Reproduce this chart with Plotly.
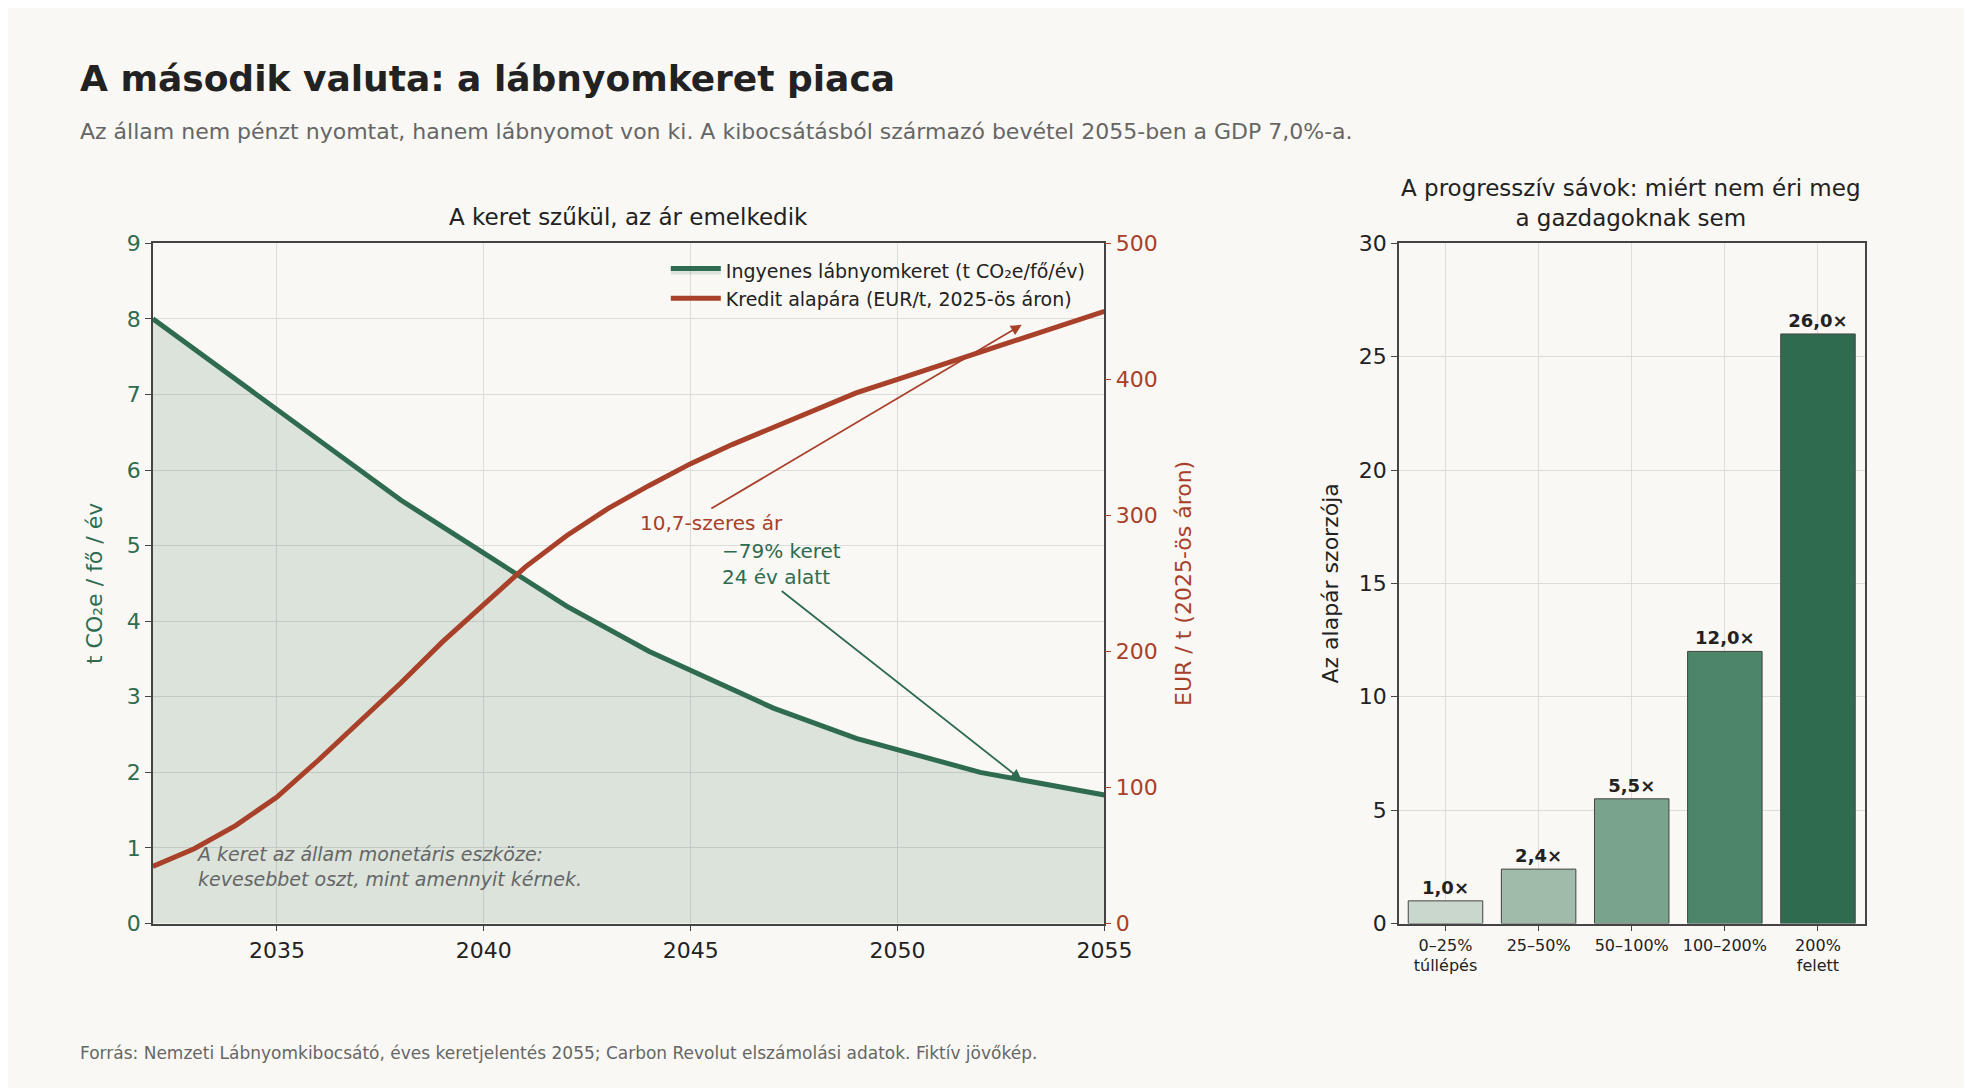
import plotly.graph_objects as go

years = list(range(2032, 2056))
keret_years = [2032, 2034, 2035, 2038, 2040, 2042, 2044, 2047, 2049, 2052, 2055]
keret = [8.0, 7.2, 6.8, 5.6, 4.9, 4.2, 3.6, 2.85, 2.45, 2.0, 1.7]
price = [42, 55, 72, 93, 120, 148, 177, 207, 235, 262, 285, 305, 322, 338, 352,
         365, 378, 390, 400, 410, 420, 430, 440, 450]
bands = ["0–25%<br>túllépés", "25–50%", "50–100%", "100–200%", "200%<br>felett"]
mult = [1.0, 2.4, 5.5, 12.0, 26.0]
mult_labels = ["1,0×", "2,4×", "5,5×", "12,0×", "26,0×"]
bar_colors = ["#c9d7cd", "#a0bba9", "#7aa38b", "#4d8569", "#2e6b4f"]

GREEN = "#2e6b4f"
RED = "#a8402a"
BG = "#f9f8f4"
GRID = "#dcdcd8"
FONT = "DejaVu Sans"

fig = go.Figure()
fig.add_trace(go.Scatter(x=keret_years, y=keret, mode="lines", fill="tozeroy",
                         fillcolor="rgba(46,107,79,0.15)", line=dict(color=GREEN, width=5),
                         name="Ingyenes lábnyomkeret (t CO₂e/fő/év)", xaxis="x", yaxis="y"))
fig.add_trace(go.Scatter(x=years, y=price, mode="lines", line=dict(color=RED, width=5),
                         name="Kredit alapára (EUR/t, 2025-ös áron)", xaxis="x", yaxis="y2"))
fig.add_trace(go.Bar(x=bands, y=mult, marker=dict(color=bar_colors, line=dict(color="#444", width=1)),
                     text=mult_labels, textposition="outside",
                     textfont=dict(size=18, color="#222", family=FONT, weight="bold"),
                     cliponaxis=False, width=0.8, showlegend=False, xaxis="x3", yaxis="y3"))

axline = dict(showline=True, linecolor="#444", linewidth=1.5, mirror=True, ticks="outside",
              ticklen=6, tickcolor="#444", gridcolor=GRID, zeroline=False)
fig.update_layout(
    width=1972, height=1088, paper_bgcolor=BG, plot_bgcolor=BG,
    margin=dict(l=0, r=0, t=0, b=0),
    font=dict(family=FONT, size=20, color="#222"),
    xaxis=dict(domain=[0.0745, 0.564], range=[2032, 2055], tickvals=[2035, 2040, 2045, 2050, 2055],
               anchor="y", tickfont=dict(size=22), **axline),
    yaxis=dict(range=[0, 9], dtick=1, tickfont=dict(size=22, color=GREEN), anchor="x",
               domain=[0.15, 0.79],
               title=dict(text="t CO₂e / fő / év", font=dict(size=22, color=GREEN), standoff=18),
               **axline),
    yaxis2=dict(range=[0, 500], dtick=100, overlaying="y", side="right", anchor="x",
                tickfont=dict(size=22, color=RED), showgrid=False, showline=False, ticks="outside",
                ticklen=6, tickcolor=RED, zeroline=False,
                title=dict(text="EUR / t (2025-ös áron)", font=dict(size=22, color=RED), standoff=18)),
    xaxis3=dict(domain=[0.7155, 0.955], anchor="y3", tickfont=dict(size=16), **axline),
    yaxis3=dict(domain=[0.15, 0.79], range=[0, 30], dtick=5, anchor="x3", tickfont=dict(size=22),
                title=dict(text="Az alapár szorzója", font=dict(size=22), standoff=14), **axline),
    legend=dict(x=0.995, y=0.985, xref="paper", xanchor="right", yanchor="top",
                bgcolor="rgba(0,0,0,0)", font=dict(size=19), itemwidth=50),
    bargap=0.2,
)
# put legend relative to left plot domain
fig.update_layout(legend=dict(x=0.557, y=0.782, xanchor="right", yanchor="top"))

ann = [
    dict(text="<b>A második valuta: a lábnyomkeret piaca</b>", x=0.036, y=0.945, xref="paper", yref="paper",
         xanchor="left", yanchor="middle", showarrow=False, font=dict(size=36, color="#222")),
    dict(text="Az állam nem pénzt nyomtat, hanem lábnyomot von ki. A kibocsátásból származó bevétel 2055-ben a GDP 7,0%-a.",
         x=0.036, y=0.895, xref="paper", yref="paper", xanchor="left", yanchor="middle", showarrow=False,
         font=dict(size=22, color="#666")),
    dict(text="A keret szűkül, az ár emelkedik", x=0.319, y=0.815, xref="paper", yref="paper",
         xanchor="center", yanchor="middle", showarrow=False, font=dict(size=23)),
    dict(text="A progresszív sávok: miért nem éri meg<br>a gazdagoknak sem", x=0.835, y=0.828, xref="paper",
         yref="paper", xanchor="center", yanchor="middle", showarrow=False, font=dict(size=23)),
    dict(text="Forrás: Nemzeti Lábnyomkibocsátó, éves keretjelentés 2055; Carbon Revolut elszámolási adatok. Fiktív jövőkép.",
         x=0.036, y=0.028, xref="paper", yref="paper", xanchor="left", yanchor="middle", showarrow=False,
         font=dict(size=17, color="#666")),
    dict(text="<i>A keret az állam monetáris eszköze:<br>kevesebbet oszt, mint amennyit kérnek.</i>",
         x=2033, y=0.75, xref="x", yref="y", xanchor="left", yanchor="middle", showarrow=False, align="left",
         font=dict(size=19, color="#666")),
    dict(text="10,7-szeres ár", x=2053, y=440, xref="x", yref="y2", ax=2045.5, ay=305, axref="x", ayref="y2",
         showarrow=True, arrowhead=2, arrowsize=1.2, arrowwidth=1.8, arrowcolor=RED, standoff=0,
         font=dict(size=20, color=RED), yanchor="top"),
    dict(text="−79% keret<br>24 év alatt", x=2053, y=1.9, xref="x", yref="y", ax=2047.2, ay=4.4, axref="x",
         ayref="y", showarrow=True, arrowhead=2, arrowsize=1.2, arrowwidth=1.8, arrowcolor=GREEN,
         font=dict(size=20, color=GREEN), align="left", yanchor="bottom"),
]
fig.update_layout(annotations=ann)
fig.write_html("out.html")
